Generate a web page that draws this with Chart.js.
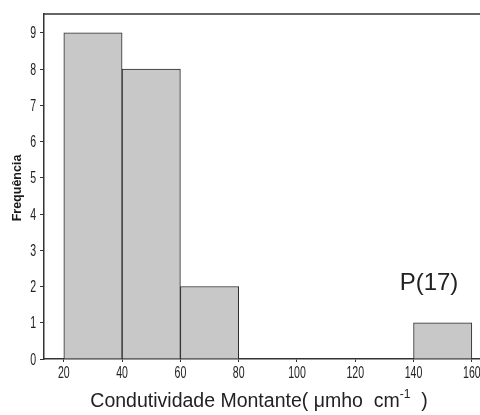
<!DOCTYPE html>
<html>
<head>
<meta charset="utf-8">
<script src="https://cdn.jsdelivr.net/npm/chart.js@4.4.1/dist/chart.umd.min.js"></script>
<style>
  html, body { margin: 0; padding: 0; background: #ffffff; }
  #wrap { width: 480px; height: 415px; position: relative; }
</style>
</head>
<body>
<div id="wrap"><canvas id="c" width="480" height="415"></canvas></div>
<script>
// Histogram bins (centres) and frequencies
const binCenters = [30, 50, 70, 90, 110, 130, 150];
const frequencies = [9, 8, 2, 0, 0, 0, 1];
const xTickValues = [20, 40, 60, 80, 100, 120, 140, 160];
const yTickValues = [0, 1, 2, 3, 4, 5, 6, 7, 8, 9];
const xTitleMain = "Condutividade Montante( \u03bcmho  cm";
const xTitleSup = "-1";
const xTitleEnd = "  )";
const yTitle = "Frequência";
const annotationText = "P(17)";
const annotationPos = { x: 145.3, y: 2.1 };

const points = binCenters.map((c, i) => ({ x: c, y: frequencies[i] }));

const axisColor = '#333333';
const tickFontCss = "16px 'Liberation Sans', Arial, sans-serif";
const narrow = 0.66;

const decorPlugin = {
  id: 'decor',
  afterDraw(chart) {
    const ctx = chart.ctx;
    const a = chart.chartArea;
    const xs = chart.scales.x, ys = chart.scales.y;
    ctx.save();
    // top frame line
    ctx.strokeStyle = axisColor;
    ctx.lineWidth = 1.5;
    ctx.beginPath();
    ctx.moveTo(a.left, a.top);
    ctx.lineTo(a.right, a.top);
    ctx.stroke();

    // narrow tick labels (from the scales' own tick positions)
    ctx.fillStyle = '#222222';
    ctx.font = tickFontCss;
    ctx.textBaseline = 'alphabetic';
    xs.ticks.forEach(t => {
      const px = xs.getPixelForValue(t.value);
      ctx.save();
      ctx.translate(px, a.bottom + 18.5);
      ctx.scale(narrow, 1);
      ctx.textAlign = 'center';
      ctx.fillText(String(t.value), 0, 0);
      ctx.restore();
    });
    ys.ticks.forEach(t => {
      const py = ys.getPixelForValue(t.value);
      ctx.save();
      ctx.translate(a.left - 8, py + 5.6);
      ctx.scale(narrow, 1);
      ctx.textAlign = 'right';
      ctx.fillText(String(t.value), 0, 0);
      ctx.restore();
    });

    // y title
    ctx.fillStyle = '#1a1a1a';
    ctx.font = "bold 12.5px 'Liberation Sans', Arial, sans-serif";
    ctx.textAlign = 'center';
    ctx.textBaseline = 'middle';
    ctx.save();
    ctx.translate(18, 188);
    ctx.rotate(-Math.PI / 2);
    ctx.fillText(yTitle, 0, 0);
    ctx.restore();

    // x title with superscript
    const mainFont = "19.5px 'Liberation Sans', Arial, sans-serif";
    const supFont = "12px 'Liberation Sans', Arial, sans-serif";
    ctx.font = mainFont;
    const w1 = ctx.measureText(xTitleMain).width;
    const w3 = ctx.measureText(xTitleEnd).width;
    ctx.font = supFont;
    const w2 = ctx.measureText(xTitleSup).width;
    const total = w1 + w2 + w3;
    let x = 259 - total / 2;
    const baseY = 407;
    ctx.textAlign = 'left';
    ctx.textBaseline = 'alphabetic';
    ctx.fillStyle = '#222222';
    ctx.font = mainFont;
    ctx.fillText(xTitleMain, x, baseY);
    x += w1;
    ctx.font = supFont;
    ctx.fillText(xTitleSup, x, baseY - 9);
    x += w2;
    ctx.font = mainFont;
    ctx.fillText(xTitleEnd, x, baseY);

    // annotation
    ctx.font = "24px 'Liberation Sans', Arial, sans-serif";
    ctx.textAlign = 'center';
    ctx.textBaseline = 'middle';
    ctx.fillStyle = '#222222';
    ctx.fillText(annotationText, xs.getPixelForValue(annotationPos.x), ys.getPixelForValue(annotationPos.y));
    ctx.restore();
  }
};

new Chart(document.getElementById('c'), {
  type: 'bar',
  data: {
    datasets: [{
      data: points,
      backgroundColor: '#c8c8c8',
      borderColor: '#2a2a2a',
      borderWidth: 1,
      barPercentage: 1.0,
      categoryPercentage: 1.0
    }]
  },
  options: {
    responsive: false,
    animation: false,
    devicePixelRatio: 1,
    layout: { padding: { top: 14, right: 0, left: 0, bottom: 0 } },
    plugins: { legend: { display: false }, tooltip: { enabled: false }, title: { display: false } },
    scales: {
      x: {
        type: 'linear',
        offset: false,
        min: 13.2,
        max: 162.8,
        afterBuildTicks: s => { s.ticks = xTickValues.map(v => ({ value: v })); },
        afterFit: s => { s.height = 56; s.paddingRight = 0; s.paddingLeft = 0; },
        grid: { display: true, offset: false, drawOnChartArea: false, drawTicks: true, tickLength: 3, color: axisColor, lineWidth: 1 },
        border: { display: true, color: axisColor, width: 1.5 },
        ticks: { display: false, autoSkip: false }
      },
      y: {
        type: 'linear',
        min: 0,
        max: 9.52,
        afterBuildTicks: s => { s.ticks = yTickValues.map(v => ({ value: v })); },
        afterFit: s => { s.width = 44; s.paddingTop = 0; s.paddingBottom = 0; },
        grid: { display: true, drawOnChartArea: false, drawTicks: true, tickLength: 4, color: axisColor, lineWidth: 1 },
        border: { display: true, color: axisColor, width: 1.5 },
        ticks: { display: false }
      }
    }
  },
  plugins: [decorPlugin]
});
</script>
</body>
</html>
